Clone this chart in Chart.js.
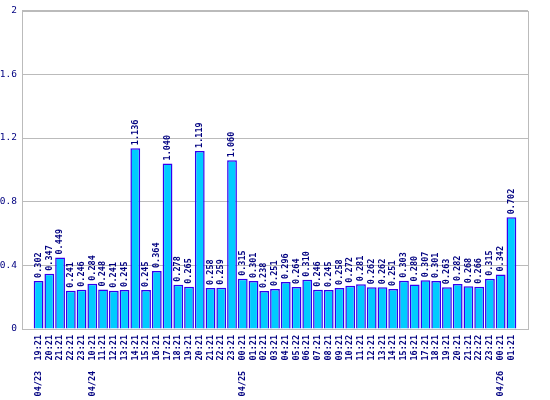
<!DOCTYPE html>
<html lang="en">
<head>
    <meta charset="UTF-8">
    <title>Hourly values</title>
    <script src="https://cdn.jsdelivr.net/npm/chart.js"></script>
    <style>
        body { margin: 0; padding: 0; background: #fff; }
        #wrap { width: 550px; height: 400px; }
    </style>
</head>
<body>
    <div id="wrap"><canvas id="barChart"></canvas></div>

    <script>
        const times = [
            '19:21', '20:21', '21:21', '22:21', '23:21',
            '10:21', '11:21', '12:21', '13:21', '14:21', '15:21', '16:21', '17:21', '18:21',
            '19:21', '20:21', '21:21', '22:21', '23:21',
            '00:21', '01:21', '02:21', '03:21', '04:21', '05:22', '06:21', '07:21', '08:21',
            '09:21', '10:22', '11:21', '12:21', '13:21', '14:21', '15:21', '16:21', '17:21',
            '18:21', '19:21', '20:21', '21:21', '22:22', '23:21',
            '00:21', '01:21'
        ];
        // date shown under the first bar of each day
        const dates = {0: '04/23', 5: '04/24', 19: '04/25', 43: '04/26'};
        const values = [
            0.302, 0.347, 0.449, 0.241, 0.246,
            0.284, 0.248, 0.241, 0.245, 1.136, 0.245, 0.364, 1.040, 0.278,
            0.265, 1.119, 0.258, 0.259, 1.060,
            0.315, 0.301, 0.238, 0.251, 0.296, 0.264, 0.310, 0.246, 0.245,
            0.258, 0.272, 0.281, 0.262, 0.262, 0.251, 0.303, 0.280, 0.307,
            0.301, 0.263, 0.282, 0.268, 0.266, 0.315,
            0.342, 0.702
        ];
        const yTicks = [0, 0.4, 0.8, 1.2, 1.6, 2];

        const navy = '#000080';
        const gridGray = '#bbbbbb';
        const mono = 'DejaVu Sans Mono';

        const labels = times.map((t, i) => dates[i] ? dates[i] + '  ' + t : t);

        // frame round the plot area
        const frame = {
            id: 'frame',
            beforeDatasetsDraw(chart) {
                const a = chart.chartArea, ctx = chart.ctx;
                ctx.save();
                ctx.strokeStyle = gridGray;
                ctx.lineWidth = 1;
                ctx.strokeRect(Math.round(a.left) + 0.5, Math.round(a.top) + 0.5,
                    Math.round(a.right - a.left), Math.round(a.bottom - a.top));
                ctx.restore();
            }
        };

        // value written upright above each bar
        const valueLabels = {
            id: 'valueLabels',
            afterDatasetsDraw(chart) {
                const ctx = chart.ctx;
                const meta = chart.getDatasetMeta(0);
                ctx.save();
                ctx.fillStyle = navy;
                ctx.font = 'bold 8.5px "' + mono + '"';
                ctx.textAlign = 'left';
                ctx.textBaseline = 'middle';
                meta.data.forEach((bar, i) => {
                    ctx.save();
                    ctx.translate(bar.x, bar.y - 3);
                    ctx.rotate(-Math.PI / 2);
                    ctx.fillText(values[i].toFixed(3), 0, 0);
                    ctx.restore();
                });
                ctx.restore();
            }
        };

        const ctx = document.getElementById('barChart').getContext('2d');
        const barChart = new Chart(ctx, {
            type: 'bar',
            data: {
                datasets: [{
                    data: values.map((v, i) => ({x: i, y: v})),
                    backgroundColor: '#00ccff',
                    borderColor: '#3300ee',
                    borderWidth: 1.5,
                    barPercentage: 0.91,
                    categoryPercentage: 1
                }]
            },
            options: {
                responsive: true,
                maintainAspectRatio: false,
                animation: false,
                layout: { padding: { top: 6, right: 22, left: 0, bottom: 0 } },
                plugins: { legend: { display: false }, tooltip: { enabled: false } },
                scales: {
                    x: {
                        type: 'linear',
                        min: -1.02,
                        max: times.length + 0.02,
                        grid: { display: false, drawTicks: false },
                        border: { display: false },
                        afterBuildTicks(scale) {
                            scale.ticks = labels.map((_, i) => ({value: i}));
                        },
                        afterFit(scale) { scale.height = 71; },
                        ticks: {
                            autoSkip: false,
                            minRotation: 90,
                            maxRotation: 90,
                            padding: 6,
                            color: navy,
                            font: { family: mono, size: 8.5, weight: 'bold' },
                            callback: (v) => labels[v]
                        }
                    },
                    y: {
                        min: 0,
                        max: 2,
                        afterBuildTicks(scale) {
                            scale.ticks = yTicks.map(v => ({value: v}));
                        },
                        afterFit(scale) { scale.width = 22; },
                        grid: { color: gridGray, drawTicks: false },
                        border: { display: false },
                        ticks: {
                            padding: 5,
                            color: navy,
                            font: { family: mono, size: 9.5 },
                            callback: (v) => String(Number(v.toFixed(1)))
                        }
                    }
                }
            },
            plugins: [frame, valueLabels]
        });
    </script>
</body>
</html>
